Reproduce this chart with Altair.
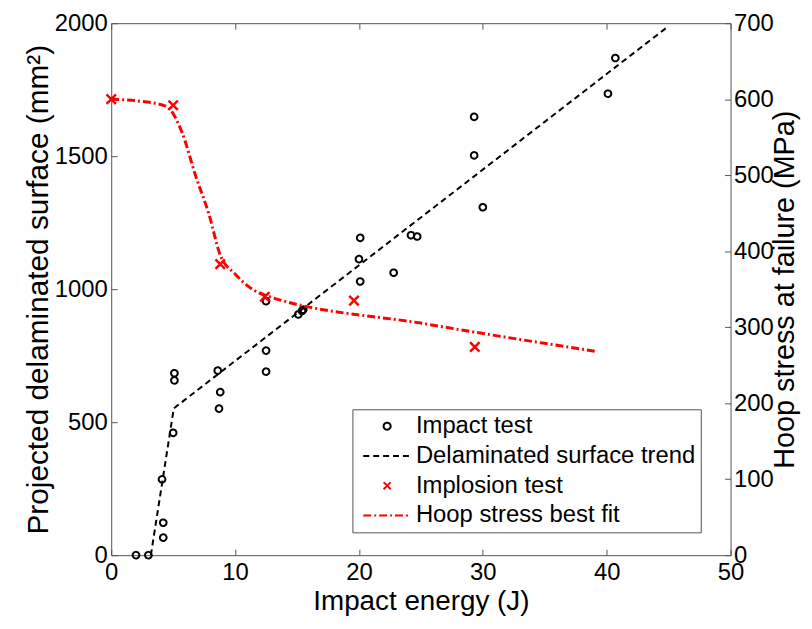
import altair as alt
import pandas as pd

labels = ["Impact test", "Delaminated surface trend", "Implosion test", "Hoop stress best fit"]

impact_energy = [2.0, 3.0, 4.2, 4.2, 4.1, 5.0, 5.1, 5.1, 8.6, 8.8, 8.7, 12.5, 12.5, 12.5,
                 15.1, 15.4, 15.5, 20.0, 20.1, 20.1, 22.8, 24.2, 24.7, 29.3, 29.3, 30.0, 40.1, 40.7]
impact_area = [0, 0, 66, 122, 285, 460, 657, 684, 694, 613, 551, 769, 690, 955,
               905, 918, 923, 1113, 1029, 1193, 1062, 1203, 1198, 1648, 1503, 1308, 1735, 1869]

trend_energy = [3.2, 5.05, 44.8]
trend_area = [0, 552, 1982]

implosion_energy = [0, 5.0, 8.8, 12.4, 19.6, 29.35]
implosion_stress = [600, 592, 383, 340, 335, 274]

fit_energy = [0, 2.0, 4.4, 5.7, 6.8, 7.9, 8.8, 10.0, 12.1, 25.5, 39.2]
fit_stress = [600, 598, 591, 557, 500, 448, 395, 370, 344, 304, 268]

x_ticks = [0, 10, 20, 30, 40, 50]
left_ticks = [0, 500, 1000, 1500, 2000]
right_ticks = [0, 100, 200, 300, 400, 500, 600, 700]

df_impact = pd.DataFrame({"energy": impact_energy, "value": impact_area, "series": labels[0]})
df_trend = pd.DataFrame({"energy": trend_energy, "value": trend_area, "series": labels[1]})
df_implosion = pd.DataFrame({"energy": implosion_energy, "value": implosion_stress, "series": labels[2]})
df_fit = pd.DataFrame({"energy": fit_energy, "value": fit_stress, "series": labels[3]})

FONT = "Liberation Sans"
XPATH = "M-1,-1L1,1M1,-1L-1,1"
LPATH = "M-6.8,0L6.8,0"

color = alt.Color("series:N", title=None,
                  scale=alt.Scale(domain=labels, range=["#000000", "#000000", "#ff0000", "#ff0000"]),
                  legend=alt.Legend(labelExpr="datum.label + '    '"))
shape = alt.Shape("series:N", title=None,
                  scale=alt.Scale(domain=labels, range=["circle", LPATH, XPATH, LPATH]))
dash = alt.StrokeDash("series:N", title=None,
                      scale=alt.Scale(domain=labels, range=[[1, 0], [6, 4], [1, 0], [8, 3, 2, 3]]))

common_axis = dict(offset=-6, tickSize=6, domain=False, tickColor="#555555", grid=False,
                   labelFlush=False, labelOverlap=False, format="d")

x_bottom = alt.X("energy:Q", scale=alt.Scale(domain=[0, 50]),
                 axis=alt.Axis(orient="bottom", values=x_ticks, title="Impact energy (J)",
                               labelPadding=6, titlePadding=3, **common_axis))
x_top = alt.X("energy:Q", scale=alt.Scale(domain=[0, 50]),
              axis=alt.Axis(orient="top", values=x_ticks, labels=False, title=None, **common_axis))

y_left = alt.Y("value:Q", scale=alt.Scale(domain=[0, 2000]),
               axis=alt.Axis(orient="left", values=left_ticks,
                             title="Projected delaminated surface (mm²)", titleFontSize=30,
                             labelPadding=4, titlePadding=1, **common_axis))
y_right = alt.Y("value:Q", scale=alt.Scale(domain=[0, 700]),
                axis=alt.Axis(orient="right", values=right_ticks,
                              title="Hoop stress at failure (MPa)", titleAngle=270, titleFontSize=29,
                              titleBaseline="top", labelPadding=3, titlePadding=-3, **common_axis))

pts = alt.Chart(df_impact).mark_point(filled=False, size=45, strokeWidth=2, opacity=1).encode(
    x=x_bottom, y=y_left, color=color, shape=shape, strokeDash=dash)
trend = alt.Chart(df_trend).mark_line(strokeWidth=2).encode(
    x=x_bottom, y=y_left, color=color, strokeDash=dash)
left = alt.layer(pts, trend)

imp = alt.Chart(df_implosion).mark_point(filled=False, size=90, strokeWidth=2.5, opacity=1).encode(
    x=x_top, y=y_right, color=color, shape=shape, strokeDash=dash)
fit = alt.Chart(df_fit).mark_line(strokeWidth=3, interpolate="monotone").encode(
    x=x_top, y=y_right, color=color, strokeDash=dash)
right = alt.layer(imp, fit)

chart = alt.layer(left, right).resolve_scale(y="independent").resolve_axis(x="independent").properties(
    width=624, height=536,
    autosize=alt.AutoSizeParams(type="none"),
    padding={"left": 104, "top": 13, "right": 74, "bottom": 64},
).configure_view(stroke="#555555", strokeWidth=1).configure_axis(
    labelFont=FONT, labelFontSize=24, labelColor="#000000",
    titleFont=FONT, titleFontSize=28, titleFontWeight="normal", titleColor="#000000",
).configure_legend(
    orient="none", legendX=243, legendY=389, padding=5,
    strokeColor="#555555", fillColor="#ffffff",
    labelFont=FONT, labelFontSize=24, labelColor="#000000", labelLimit=0,
    symbolSize=50, symbolStrokeWidth=2, symbolOffset=18, labelOffset=17, rowPadding=6,
)

chart.save("out.html", embed_options={"renderer": "svg", "actions": False})
